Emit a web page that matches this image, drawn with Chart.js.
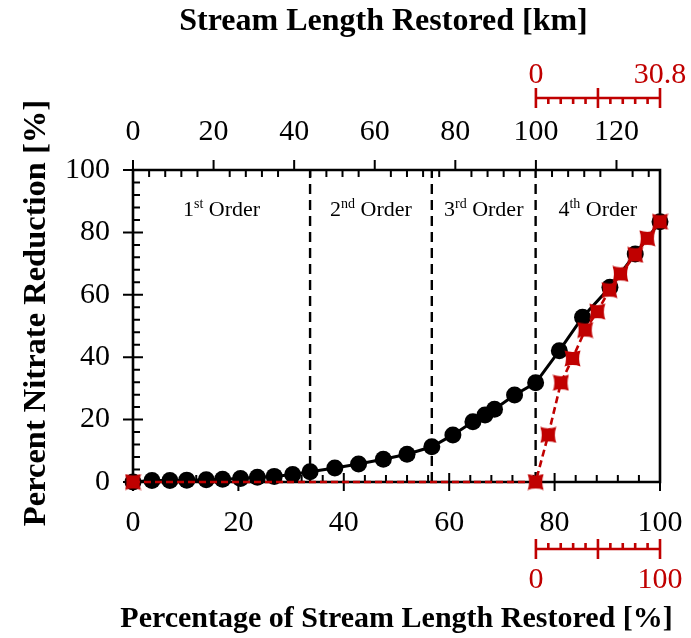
<!DOCTYPE html>
<html>
<head>
<meta charset="utf-8">
<script src="https://cdn.jsdelivr.net/npm/chart.js@4.4.1/dist/chart.umd.min.js"></script>
<style>
  html, body { margin: 0; padding: 0; background: #fff; }
  canvas { display: block; }
</style>
</head>
<body>
<canvas id="chart" width="691" height="638"></canvas>
<script>
// ---- Data -------------------------------------------------------------
// Share of the total stream length restored [%] and the resulting nitrate reduction [%]
const lengthPct  = [0, 3.6, 7.0, 10.2, 13.9, 17.0, 20.4, 23.6, 26.8, 30.3, 33.6, 38.3, 42.8, 47.5, 52.0,
                    56.7, 60.7, 64.5, 66.8, 68.6, 72.4, 76.4, 80.9, 85.3, 90.5, 95.3, 100];
const reductionAll = [0, 0.5, 0.5, 0.6, 0.7, 0.9, 1.1, 1.5, 1.8, 2.4, 3.3, 4.5, 5.8, 7.3, 8.9,
                      11.3, 15.1, 19.3, 21.5, 23.3, 27.9, 31.8, 42.1, 52.8, 62.4, 73.1, 83.4];

// Restoring only the 4th-order reaches
const lengthPct4th    = [0, 76.4, 78.8, 81.2, 83.4, 85.8, 88.1, 90.4, 92.5, 95.3, 97.6, 100];
const reduction4th    = [0, 0, 15.1, 31.8, 39.6, 48.7, 54.6, 61.5, 66.7, 72.8, 78.1, 83.4];

// Where each stream order ends along the length axis [%]
const orderBreaks = [33.6, 56.7, 76.4];
const orderNumbers = ['1', '2', '3', '4'];
const orderSuffixes = ['st', 'nd', 'rd', 'th'];

// Axis ranges / tick labels
const totalKm = 130.8;
const fourthOrderKm = 30.8;
const pctTicks = [0, 20, 40, 60, 80, 100];
const kmTicks = [0, 20, 40, 60, 80, 100, 120];
const fourthKmLabels = ['0', '30.8'];
const fourthPctLabels = ['0', '100'];

// ---- Styling ----------------------------------------------------------
const RED = '#C00000';
const SERIF = '"Liberation Serif", "Times New Roman", serif';
const TICK_FONT = { family: SERIF, size: 30 };
const CLEAR = 'rgba(0,0,0,0)';

function toPoints(xs, ys) { return xs.map((v, i) => ({ x: v, y: ys[i] })); }

// Red marker: a square with slightly pinched sides
function pinchedSquare(size, color) {
  const c = document.createElement('canvas');
  c.width = c.height = size;
  const g = c.getContext('2d');
  const h = size / 2, r = h - 0.5, k = r - 2.8;
  g.fillStyle = color;
  g.beginPath();
  g.moveTo(h - r, h - r);
  g.quadraticCurveTo(h, h - k, h + r, h - r);
  g.quadraticCurveTo(h + k, h, h + r, h + r);
  g.quadraticCurveTo(h, h + k, h - r, h + r);
  g.quadraticCurveTo(h - k, h, h - r, h - r);
  g.closePath();
  g.fill();
  return c;
}
const redMarker = pinchedSquare(17, RED);

// Frame, tick marks and the red 4th-order sub-scales
const axesDecor = {
  id: 'axesDecor',
  beforeDatasetsDraw(chart) {
    const { ctx, chartArea: a, scales } = chart;
    const x = scales.x, y = scales.y, x2 = scales.x2;
    ctx.save();
    ctx.lineCap = 'butt';
    ctx.strokeStyle = '#000';

    // frame
    ctx.lineWidth = 2.6;
    ctx.beginPath();
    ctx.moveTo(a.left, a.top); ctx.lineTo(a.right, a.top);
    ctx.lineTo(a.right, a.bottom); ctx.lineTo(a.left, a.bottom);
    ctx.closePath();
    ctx.stroke();

    ctx.lineWidth = 2;
    ctx.beginPath();
    // bottom axis: majors cross, minors point inward
    for (let v = 0; v <= 100; v += 4) {
      const px = x.getPixelForValue(v);
      if (v % 20 === 0) { ctx.moveTo(px, a.bottom - 9); ctx.lineTo(px, a.bottom + 9); }
      else { ctx.moveTo(px, a.bottom - 7); ctx.lineTo(px, a.bottom); }
    }
    // left axis
    for (let v = 0; v <= 100; v += 4) {
      const py = y.getPixelForValue(v);
      if (v % 20 === 0) { ctx.moveTo(a.left - 10, py); ctx.lineTo(a.left + 10, py); }
      else { ctx.moveTo(a.left, py); ctx.lineTo(a.left + 7, py); }
    }
    // top (km) axis: majors outward, minors inward
    for (let v = 0; v < totalKm; v += 4) {
      const px = x2.getPixelForValue(v);
      if (v % 20 === 0) { ctx.moveTo(px, a.top - 10); ctx.lineTo(px, a.top); }
      else { ctx.moveTo(px, a.top); ctx.lineTo(px, a.top + 7); }
    }
    ctx.stroke();

    // red sub-scales spanning the 4th-order reach
    const k0 = x2.getPixelForValue(totalKm - fourthOrderKm);
    const k1 = x2.getPixelForValue(totalKm);
    const drawSub = (yLine, minorDir, labels, labelY) => {
      ctx.strokeStyle = RED;
      ctx.lineWidth = 2.6;
      ctx.beginPath();
      ctx.moveTo(k0, yLine); ctx.lineTo(k1, yLine);
      for (let i = 0; i <= 10; i++) {
        const px = k0 + (k1 - k0) * i / 10;
        if (i % 5 === 0) { ctx.moveTo(px, yLine - 10); ctx.lineTo(px, yLine + 10); }
        else { ctx.moveTo(px, yLine); ctx.lineTo(px, yLine + 6 * minorDir); }
      }
      ctx.stroke();
      ctx.fillStyle = RED;
      ctx.font = '30px ' + SERIF;
      ctx.textAlign = 'center';
      ctx.textBaseline = 'alphabetic';
      ctx.fillText(labels[0], k0, labelY);
      ctx.fillText(labels[1], k1, labelY);
    };
    drawSub(a.top - 72, 1, fourthKmLabels, a.top - 87);
    drawSub(a.bottom + 67, -1, fourthPctLabels, a.bottom + 106);
    ctx.restore();
  },
  afterDraw(chart) {
    const { ctx, chartArea: a, scales } = chart;
    const x = scales.x, y = scales.y;
    ctx.save();
    ctx.fillStyle = '#000';
    // stream order labels with superscript suffixes
    const bounds = [0, ...orderBreaks, 100];
    const mainFont = '22px ' + SERIF, supFont = '14px ' + SERIF;
    const ly = y.getPixelForValue(85.2);
    ctx.textBaseline = 'alphabetic';
    ctx.textAlign = 'left';
    for (let i = 0; i < orderNumbers.length; i++) {
      const cx = x.getPixelForValue((bounds[i] + bounds[i + 1]) / 2);
      ctx.font = mainFont;
      const w1 = ctx.measureText(orderNumbers[i]).width;
      const w3 = ctx.measureText(' Order').width;
      ctx.font = supFont;
      const w2 = ctx.measureText(orderSuffixes[i]).width;
      let sx = cx - (w1 + w2 + w3) / 2;
      ctx.font = mainFont;
      ctx.fillText(orderNumbers[i], sx, ly);
      ctx.font = supFont;
      ctx.fillText(orderSuffixes[i], sx + w1, ly - 8);
      ctx.font = mainFont;
      ctx.fillText(' Order', sx + w1 + w2, ly);
    }

    // axis titles
    const midX = (a.left + a.right) / 2;
    ctx.textAlign = 'center';
    ctx.textBaseline = 'middle';
    ctx.font = 'bold 32px ' + SERIF;
    ctx.fillText('Stream Length Restored [km]', midX - 13, 22);
    ctx.font = 'bold 30px ' + SERIF;
    ctx.fillText('Percentage of Stream Length Restored [%]', midX, 619);
    ctx.font = 'bold 32.5px ' + SERIF;
    ctx.translate(37, (a.top + a.bottom) / 2 - 13);
    ctx.rotate(-Math.PI / 2);
    ctx.fillText('Percent Nitrate Reduction [%]', 0, 0);
    ctx.restore();
  }
};

const dividerSets = orderBreaks.map(b => ({
  data: toPoints([b, b], [0, 100]),
  showLine: true,
  borderColor: '#000',
  borderWidth: 2.4,
  borderDash: [10, 6],
  pointRadius: 0,
  clip: false
}));

// invisible grid/tick settings: tick length only spaces the labels away from the axis
const hiddenGrid = (len) => ({
  display: true, drawOnChartArea: false, drawTicks: true, tickLength: len,
  color: CLEAR, tickColor: CLEAR
});

new Chart(document.getElementById('chart'), {
  type: 'scatter',
  data: {
    datasets: [
      {
        label: '4th order only',
        data: toPoints(lengthPct4th, reduction4th),
        showLine: true,
        borderColor: RED,
        borderWidth: 2.6,
        borderDash: [7, 4],
        pointStyle: redMarker,
        pointRadius: 8,
        clip: false
      },
      {
        label: 'All orders',
        data: toPoints(lengthPct, reductionAll),
        showLine: true,
        borderColor: '#000',
        borderWidth: 3,
        pointBackgroundColor: '#000',
        pointBorderWidth: 0,
        pointRadius: 8.5,
        clip: false
      },
      ...dividerSets
    ]
  },
  options: {
    responsive: false,
    animation: false,
    layout: { padding: { right: 31 } },
    plugins: { legend: { display: false }, tooltip: { enabled: false } },
    scales: {
      x: {
        type: 'linear', position: 'bottom', min: 0, max: 100,
        afterBuildTicks: s => { s.ticks = pctTicks.map(v => ({ value: v })); },
        afterFit: s => { s.height = 156; },
        grid: hiddenGrid(21),
        border: { display: false },
        ticks: { font: TICK_FONT, color: '#000', padding: 2, maxRotation: 0 }
      },
      x2: {
        type: 'linear', position: 'top', min: 0, max: totalKm,
        afterBuildTicks: s => { s.ticks = kmTicks.map(v => ({ value: v })); },
        afterFit: s => { s.height = 170; },
        grid: hiddenGrid(18),
        border: { display: false },
        ticks: { font: TICK_FONT, color: '#000', padding: 2, maxRotation: 0 }
      },
      y: {
        type: 'linear', position: 'left', min: 0, max: 100,
        afterBuildTicks: s => { s.ticks = pctTicks.map(v => ({ value: v })); },
        afterFit: s => { s.width = 133; },
        grid: hiddenGrid(21),
        border: { display: false },
        ticks: { font: TICK_FONT, color: '#000', padding: 2 }
      }
    }
  },
  plugins: [axesDecor]
});
</script>
</body>
</html>
